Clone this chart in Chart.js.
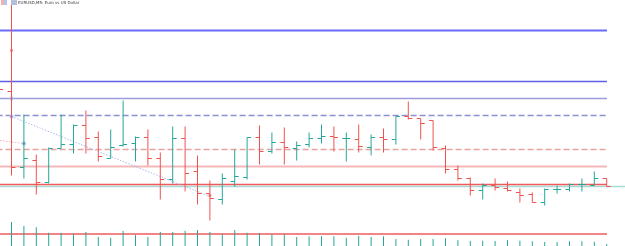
<!DOCTYPE html>
<html>
<head>
<meta charset="utf-8">
<script src="https://cdn.jsdelivr.net/npm/chart.js@4.4.1/dist/chart.umd.min.js"></script>
<style>
  body { margin: 0; background: #fff; }
  #wrap { position: relative; width: 625px; height: 246px; }
  #label { position: absolute; left: 18px; top: 0; font: 4px "DejaVu Sans", sans-serif; color: #3c3c3c; white-space: nowrap; }
  .ico { position: absolute; top: 0; width: 6px; height: 5px; }
</style>
</head>
<body>
<div id="wrap">
  <canvas id="chart"></canvas>
  <span class="ico" style="left:1px;background:linear-gradient(90deg,#f2b0b0 50%,#b0c4ee 50%)"></span>
  <span class="ico" style="left:11px;background:#b4c0da"></span>
  <div id="label">EURUSD,M5: Euro vs US Dollar</div>
</div>
<script>
// M5 bars, oldest first (first one is cut off at the left edge, only its close shows)
const opens = [null, 1.08909, 1.08833, 1.08840, 1.08818, 1.08852, 1.08856, 1.08875, 1.08863, 1.08842,
  1.08855, 1.08857, 1.08863, 1.08842, 1.08821, 1.08862, 1.08829, 1.08807, 1.08801, 1.08819,
  1.08823, 1.08863, 1.08849, 1.08858, 1.08852, 1.08856, 1.08862, 1.08864, 1.08862, 1.08861,
  1.08853, 1.08863, 1.08861, 1.08884, 1.08882, 1.08880, 1.08852, 1.08831, 1.08822, 1.08810,
  1.08815, 1.08812, 1.08808, 1.08806, 1.08798, 1.08811, 1.08811, 1.08816, 1.08815, 1.08822];
const highs = [null, 1.08997, 1.08886, 1.08846, 1.08853, 1.08886, 1.08876, 1.08890, 1.08869, 1.08871,
  1.08900, 1.08864, 1.08871, 1.08848, 1.08874, 1.08874, 1.08845, 1.08820, 1.08827, 1.08851,
  1.08863, 1.08875, 1.08868, 1.08873, 1.08859, 1.08868, 1.08876, 1.08874, 1.08868, 1.08876,
  1.08866, 1.08872, 1.08884, 1.08899, 1.08882, 1.08880, 1.08855, 1.08835, 1.08823, 1.08817,
  1.08822, 1.08819, 1.08812, 1.08808, 1.08812, 1.08815, 1.08817, 1.08822, 1.08829, 1.08822];
const lows = [null, 1.08825, 1.08822, 1.08806, 1.08817, 1.08852, 1.08847, 1.08847, 1.08839, 1.08842,
  1.08854, 1.08839, 1.08835, 1.08801, 1.08817, 1.08809, 1.08796, 1.08780, 1.08796, 1.08814,
  1.08821, 1.08836, 1.08847, 1.08836, 1.08840, 1.08853, 1.08857, 1.08849, 1.08839, 1.08848,
  1.08845, 1.08848, 1.08856, 1.08881, 1.08861, 1.08850, 1.08827, 1.08820, 1.08805, 1.08801,
  1.08810, 1.08809, 1.08798, 1.08798, 1.08795, 1.08807, 1.08809, 1.08809, 1.08815, 1.08814];
const closes = [1.08911, 1.08833, 1.08842, 1.08818, 1.08852, 1.08856, 1.08875, 1.08862, 1.08844, 1.08853,
  1.08856, 1.08863, 1.08842, 1.08821, 1.08862, 1.08827, 1.08807, 1.08802, 1.08822, 1.08824,
  1.08863, 1.08849, 1.08858, 1.08853, 1.08855, 1.08862, 1.08864, 1.08863, 1.08862, 1.08854,
  1.08863, 1.08861, 1.08884, 1.08882, 1.08877, 1.08853, 1.08831, 1.08822, 1.08810, 1.08815,
  1.08813, 1.08810, 1.08805, 1.08798, 1.08811, 1.08811, 1.08816, 1.08816, 1.08822, 1.08814];
const volumes = [null, 240, 200, 187, 133, 133, 117, 140, 90, 83,
  150, 110, 90, 140, 140, 153, 160, 140, 117, 160,
  133, 130, 117, 117, 90, 97, 97, 97, 83, 103,
  90, 97, 70, 63, 70, 70, 77, 57, 50, 53,
  50, 57, 53, 47, 40, 40, 47, 47, 43, 20];

// horizontal levels drawn on the chart
const levelPrices = [1.08970, 1.08919, 1.08902, 1.08885, 1.08851, 1.08834, 1.08816, 1.08814];
const volumeLevel = 120;

// trend line (bar index, price) and its anchor marks
const trendX = [1, 17];
const trendY = [1.08884, 1.08804];
const shortLineX = [0, 2];
const shortLineY = [1.08860, 1.08857];
const anchorX = [1, 1, 2];
const anchorY = [1.08902, 1.08884, 1.08857];

const BULL = '#26a69a';
const BEAR = '#ef5350';
const X_MIN = 0.0726, X_MAX = 50.476, X_END = 49.02;
const TICK = 0.161;

const levelStyles = [
  { color: '#6a6afc', width: 2 },
  { color: '#5e5ee8', width: 1.5 },
  { color: '#9a9ade', width: 1.5 },
  { color: '#8e8ed2', width: 1.5, dash: [6, 3] },
  { color: '#e8a2a2', width: 1.5, dash: [6, 3] },
  { color: '#f4b8b8', width: 2 },
  { color: '#f05a5a', width: 1.5 },
  { color: '#a6dad4', width: 1.5, full: true }
];

const idx = closes.map((_, k) => k);
const barColor = idx.map(k => (opens[k] === null || closes[k] < opens[k]) ? BEAR : BULL);

const datasets = [
  {
    type: 'bar',
    data: idx.map(k => ({ x: k, y: highs[k] === null ? null : [lows[k], highs[k]] })),
    backgroundColor: barColor,
    barThickness: 1, grouped: false, inflateAmount: 0, borderWidth: 0,
    yAxisID: 'y', order: 0
  },
  {
    type: 'scatter',
    data: idx.map(k => ({ x: k - TICK, y: opens[k] })),
    pointStyle: 'line', pointRadius: 2, pointBorderWidth: 1,
    pointBorderColor: barColor, yAxisID: 'y', order: 0
  },
  {
    type: 'scatter',
    data: idx.map(k => ({ x: k + TICK, y: closes[k] })),
    pointStyle: 'line', pointRadius: 2, pointBorderWidth: 1,
    pointBorderColor: barColor, yAxisID: 'y', order: 0
  },
  {
    type: 'bar',
    data: idx.map(k => ({ x: k, y: volumes[k] })),
    backgroundColor: BULL,
    barThickness: 1, grouped: false, inflateAmount: 0, borderWidth: 0,
    yAxisID: 'yv', order: 1
  },
  {
    type: 'scatter',
    data: anchorX.map((x, i) => ({ x, y: anchorY[i] })),
    pointRadius: 1.6, pointBackgroundColor: '#3f6cd0',
    pointBorderColor: 'rgba(190,210,240,0.8)', pointBorderWidth: 1.5,
    yAxisID: 'y', order: 0
  },
  {
    type: 'scatter',
    data: [{ x: 1, y: 1.08950 }, { x: 17, y: 1.08805 }],
    pointStyle: 'rect', pointRadius: 1.5, pointBackgroundColor: '#e04444',
    pointBorderColor: 'rgba(245,170,170,0.8)', pointBorderWidth: 1,
    yAxisID: 'y', order: 0
  },
  {
    type: 'line',
    data: trendX.map((x, i) => ({ x, y: trendY[i] })),
    borderColor: '#a4bde6', borderWidth: 1, borderDash: [1.5, 1.5],
    pointRadius: 0, yAxisID: 'y', order: 2
  },
  {
    type: 'line',
    data: [{ x: X_MIN, y: shortLineY[0] }, { x: shortLineX[1], y: shortLineY[1] }],
    borderColor: '#f2b0b0', borderWidth: 1, borderDash: [1.5, 1.5],
    pointRadius: 0, yAxisID: 'y', order: 2
  },
  {
    type: 'line',
    data: [{ x: X_MIN - 1, y: volumeLevel }, { x: X_END, y: volumeLevel }],
    borderColor: '#f05a5a', borderWidth: 1.5,
    pointRadius: 0, yAxisID: 'yv', order: 3
  }
];

levelPrices.forEach((p, i) => {
  const s = levelStyles[i];
  datasets.push({
    type: 'line',
    data: [{ x: X_MIN - 1, y: p }, { x: s.full ? X_MAX + 1 : X_END, y: p }],
    borderColor: s.color, borderWidth: s.width, borderDash: s.dash || [],
    pointRadius: 0, yAxisID: 'y', order: 4
  });
});

const hidden = { display: false, grid: { display: false }, border: { display: false } };

new Chart(document.getElementById('chart'), {
  data: { datasets },
  options: {
    responsive: true,
    maintainAspectRatio: false,
    animation: false,
    events: [],
    layout: { padding: 0, autoPadding: false },
    plugins: { legend: { display: false }, tooltip: { enabled: false } },
    scales: {
      x: { type: 'linear', min: X_MIN, max: X_MAX, offset: false, ...hidden },
      y: { type: 'linear', min: 1.087545, max: 1.090005, ...hidden },
      yv: { type: 'linear', min: 0, max: 2460, ...hidden }
    }
  }
});
</script>
</body>
</html>
